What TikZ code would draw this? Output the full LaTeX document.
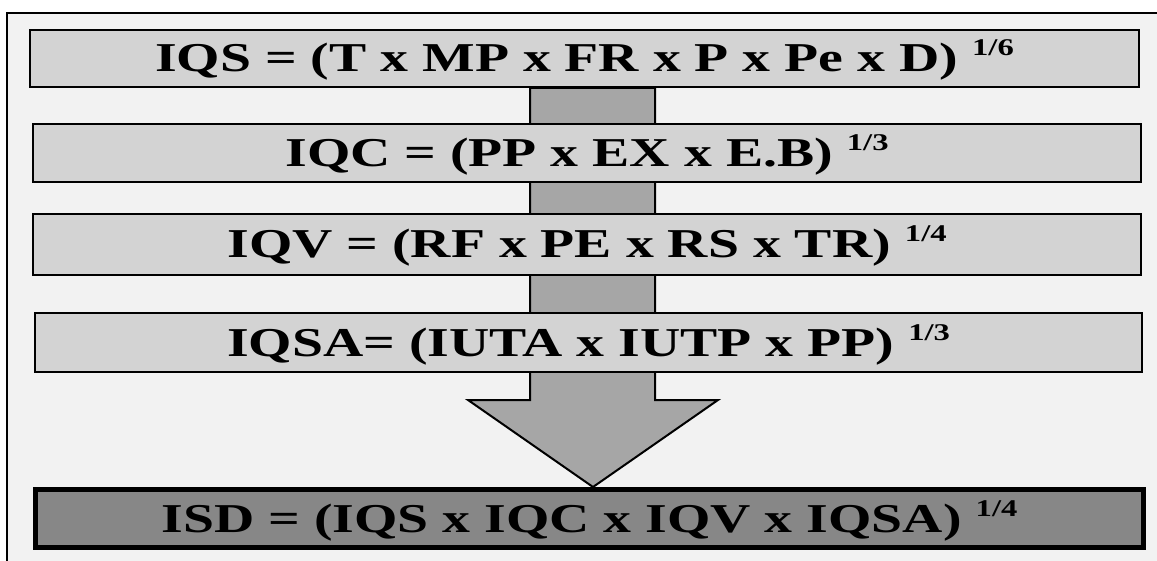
\documentclass[tikz,border=0pt]{standalone}
\usepackage{fontspec}
\setmainfont{Liberation Serif}[FakeStretch=1.36]
\usetikzlibrary{calc}
\definecolor{boxgray}{HTML}{D3D3D3}
\definecolor{shaftgray}{HTML}{A6A6A6}
\definecolor{isdgray}{HTML}{878787}
\definecolor{bggray}{HTML}{F2F2F2}
\newcommand\supx[1]{\raisebox{16pt}{\fontsize{24}{24}\selectfont #1}}
\begin{document}
\begin{tikzpicture}[x=1pt,y=-1pt,
  formbox/.style={draw=black, line width=2.5pt, fill=boxgray, inner sep=0pt,
    text height=27pt, text depth=0pt,
    font=\bfseries\fontsize{41}{41}\selectfont},
  finalbox/.style={formbox, line width=5pt, fill=isdgray},
  arrowshape/.style={draw=black, line width=2pt, fill=shaftgray, line join=miter}]
\useasboundingbox (0,0) rectangle (1157,561);
\fill[white] (0,0) rectangle (1157,561);
\fill[bggray] (7,13) rectangle (1157,561);
\draw[line width=2pt] (7,561) -- (7,13) -- (1157,13);
% arrow
\draw[arrowshape] (530,88) -- (530,400) -- (468,400) -- (593,487) -- (718,400) -- (655,400) -- (655,88) -- cycle;
% boxes
\node[formbox, minimum width=1109pt, minimum height=57pt] (iqs) at (584.5,58.5)
  {IQS = (T x MP x FR x P x Pe x D) \supx{1/6}};
\node[formbox, minimum width=1108pt, minimum height=58pt] (iqc) at (587,153)
  {IQC = (PP x EX x E.B) \supx{1/3}};
\node[formbox, minimum width=1108pt, minimum height=61pt] (iqv) at (587,244.5)
  {IQV = (RF x PE x RS x TR) \supx{1/4}};
\node[formbox, minimum width=1107pt, minimum height=59pt] (iqsa) at (588.5,342.5)
  {IQSA= (IUTA x IUTP x PP) \supx{1/3}};
\node[finalbox, minimum width=1108pt, minimum height=58pt] (isd) at (589.5,518.5)
  {ISD = (IQS x IQC x IQV x IQSA) \supx{1/4}};
\end{tikzpicture}
\end{document}
